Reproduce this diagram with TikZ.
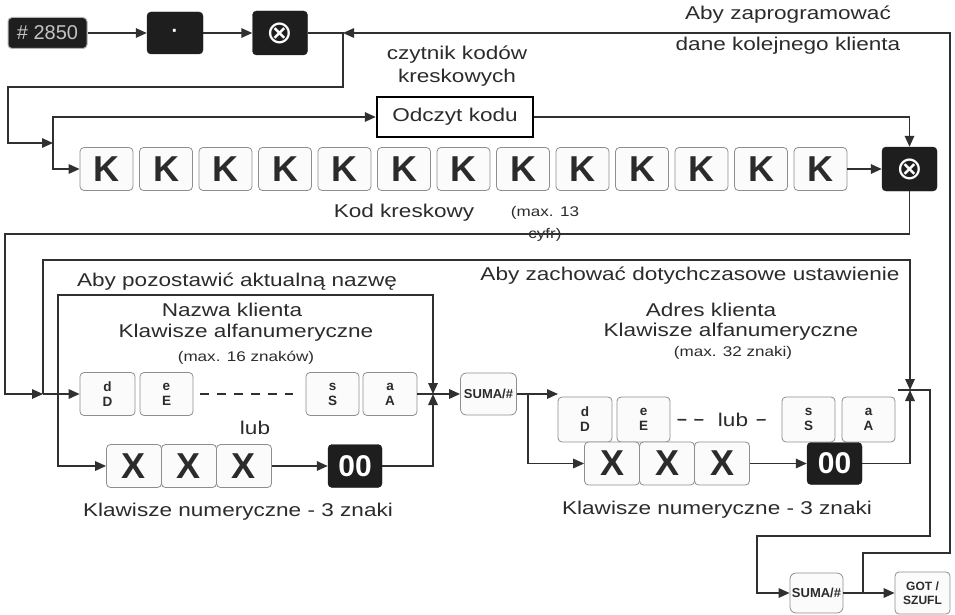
\documentclass[tikz,border=0pt]{standalone}
\usepackage{fontspec}
\setsansfont{Liberation Sans}[FakeStretch=1.22]
\newfontfamily\keyfont{Liberation Sans}
\newfontfamily\symfont{DejaVu Sans}
\usetikzlibrary{arrows.meta}

\definecolor{ink}{HTML}{2B2B2B}
\definecolor{wiregray}{HTML}{303030}
\definecolor{keyedge}{HTML}{8E8E8E}
\definecolor{keyface}{HTML}{FBFBFB}
\definecolor{keyblack}{HTML}{1E1E1E}
\definecolor{labelgray}{HTML}{C4C4C4}

\begin{document}
\begin{tikzpicture}[
  x=1pt,
  y=-1pt,
  font=\sffamily\fontsize{18.5}{22}\selectfont,
  text=ink,
  wire/.style={draw=wiregray,line width=1.6pt},
  arr/.style={wire,-{Triangle[length=11pt,width=9.5pt]}},
  keycap/.style={draw=keyedge,line width=.8pt,rounded corners=4pt,fill=keyface,inner sep=0pt},
  bigkey/.style={keycap,minimum width=55pt,minimum height=43pt,
    font=\keyfont\bfseries\fontsize{36}{36}\selectfont},
  letterkey/.style={keycap,minimum width=54pt,minimum height=43pt,align=center,
    font=\keyfont\bfseries\fontsize{13.5}{15}\selectfont},
  blackkey/.style={draw=keyblack,fill=keyblack,rounded corners=4pt,inner sep=0pt,text=white},
  xkey/.style={blackkey,minimum width=55pt,minimum height=44pt,
    font=\symfont\fontsize{32}{32}\selectfont},
  sumakey/.style={keycap,rounded corners=6pt,minimum width=56pt,minimum height=42pt,
    align=center,font=\keyfont\bfseries\fontsize{13}{14}\selectfont},
  smallnote/.style={font=\sffamily\fontsize{14}{22}\selectfont},
  dashline/.style={wire,dash pattern=on 9pt off 8pt}
]
\useasboundingbox (0,0) rectangle (955,615);

% pixel grid of the sheet, y runs downwards
\node[blackkey,draw=gray!60,line width=1pt,minimum width=79pt,minimum height=31pt,
  text=labelgray,font=\keyfont\fontsize{20}{20}\selectfont] (k2850) at (47.5,33) {\# 2850};
\node[blackkey,minimum width=56pt,minimum height=42pt,
  font=\keyfont\bfseries\fontsize{20}{20}\selectfont] (kdot) at (175,33) {\raisebox{-9pt}{·}};
\node[xkey] (kx1) at (280,33) {⊗};
\coordinate (jtop) at (343,33);
\coordinate (jk) at (53,143);

\node[align=center,font=\sffamily\fontsize{18.5}{23}\selectfont] (reader) at (457,66)
  {czytnik kodów\\kreskowych};
\node[draw=black,line width=2.4pt,fill=white,minimum width=156pt,minimum height=40pt,
  inner sep=0pt] (odczyt) at (455,117) {Odczyt kodu};

\node[bigkey,minimum width=53pt] (k1) at (106.5,169) {K};
\node[bigkey,minimum width=53pt] (k2) at (166,169) {K};
\node[bigkey,minimum width=53pt] (k3) at (225.5,169) {K};
\node[bigkey,minimum width=53pt] (k4) at (285,169) {K};
\node[bigkey,minimum width=53pt] (k5) at (344.5,169) {K};
\node[bigkey,minimum width=53pt] (k6) at (404,169) {K};
\node[bigkey,minimum width=53pt] (k7) at (463.5,169) {K};
\node[bigkey,minimum width=53pt] (k8) at (523,169) {K};
\node[bigkey,minimum width=53pt] (k9) at (582.5,169) {K};
\node[bigkey,minimum width=53pt] (k10) at (642,169) {K};
\node[bigkey,minimum width=53pt] (k11) at (701.5,169) {K};
\node[bigkey,minimum width=53pt] (k12) at (761,169) {K};
\node[bigkey,minimum width=53pt] (k13) at (820.5,169) {K};
\node[xkey] (kx2) at (909.5,169) {⊗};

\node (kodlabel) at (404,213) {Kod kreskowy};
\node[smallnote,align=center] (kodmax) at (545,224) {(max. 13\\cyfr)};

\node (topnote) at (788,30) [align=center,font=\sffamily\fontsize{18.5}{31}\selectfont]
  {Aby zaprogramować\\dane kolejnego klienta};

% name of the client
\coordinate (jname) at (43,394);
\coordinate (jb) at (58,394);
\node (keepname) at (237,282) {Aby pozostawić aktualną nazwę};
\node (namelabel) at (232,310) {Nazwa klienta};
\node (namekeys) at (246,333) {Klawisze alfanumeryczne};
\node[smallnote] (namemax) at (246,358) {(max. 16 znaków)};
\node[letterkey,minimum width=55pt] (ld) at (107.5,394) {d\\D};
\node[letterkey,minimum width=53pt] (le) at (166.5,394) {e\\E};
\node[letterkey,minimum width=53pt] (ls) at (332.5,394) {s\\S};
\node[letterkey] (la) at (390,394) {a\\A};
\node (lubl) at (255,428) {lub};
\node[bigkey] (lx1) at (134,466) {X};
\node[bigkey] (lx2) at (189,466) {X};
\node[bigkey] (lx3) at (244,466) {X};
\node[blackkey,minimum width=54pt,minimum height=43pt,
  font=\keyfont\bfseries\fontsize{30}{30}\selectfont] (l00) at (355,466) {00};
\node (lnum) at (238,512) {Klawisze numeryczne - 3 znaki};
\coordinate (jn) at (433,394);
\node[sumakey] (suma1) at (488.5,394) {SUMA/\#};

% address of the client
\coordinate (js) at (528,394);
\coordinate (rin) at (558,394);
\node (keepaddr) at (690,276) {Aby zachować dotychczasowe ustawienie};
\node (addrlabel) at (711,310) {Adres klienta};
\node (addrkeys) at (731,332) {Klawisze alfanumeryczne};
\node[smallnote] (addrmax) at (733,353) {(max. 32 znaki)};
\node[letterkey,minimum height=45pt] (rd) at (585,419.5) {d\\D};
\node[letterkey,minimum width=53pt,minimum height=45pt] (re) at (643.5,419.5) {e\\E};
\node (lubr) at (733,420) {lub};
\node[letterkey,minimum width=53pt,minimum height=45pt] (rs) at (808.5,419.5) {s\\S};
\node[letterkey,minimum width=53pt,minimum height=45pt] (ra) at (868.5,419.5) {a\\A};
\node[bigkey] (rx1) at (612,463.5) {X};
\node[bigkey] (rx2) at (667,463.5) {X};
\node[bigkey] (rx3) at (722,463.5) {X};
\node[blackkey,minimum width=55pt,minimum height=42pt,
  font=\keyfont\bfseries\fontsize{30}{30}\selectfont] (r00) at (834.5,463.5) {00};
\node (rnum) at (717,510) {Klawisze numeryczne - 3 znaki};
\coordinate (jr) at (910,390);
\coordinate (jrw) at (898,390);

\node[sumakey,minimum width=53pt,minimum height=40pt] (suma2) at (816.5,593) {SUMA/\#};
\node[sumakey,rounded corners=4pt,minimum width=55pt,minimum height=42pt,
  font=\keyfont\bfseries\fontsize{12}{14}\selectfont] (got) at (922.5,593) {GOT /\\SZUFL};
\coordinate (jg) at (863,593);

% connectors
\draw[arr] (k2850) -- (kdot);
\draw[arr] (kdot) -- (kx1);
\draw[arr] (kx1) -- (jtop) -- (343,87) -| (8,143) -- (jk);
\draw[arr] (jk) |- (odczyt);
\draw[arr] (jk) |- (k1);
\draw[arr] (odczyt) -| (kx2);
\draw[arr] (k13) -- (kx2);
\draw[arr] (kx2) |- (5,234) |- (jname);

\draw[arr] (jname) -- (ld);
\draw[arr] (jb) |- (433,295) -- (jn);
\draw[arr] (jb) |- (lx1);
\draw[dashline,shorten <=7pt,shorten >=13pt] (le) -- (ls);
\draw[arr] (la) -- (suma1);
\draw[arr] (lx3) -- (l00);
\draw[arr] (l00) -| (jn);

\draw[arr] (suma1) -- (rin);
\draw[arr] (js) |- (rx1);
\draw[dashline,shorten <=7pt,shorten >=4pt] (re) -- (lubr);
\draw[dashline,shorten <=5pt,shorten >=14pt] (lubr) -- (rs);
\draw[arr] (rx3) -- (r00);
\draw[arr] (r00) -| (jr);
\draw[arr] (jname) -- (43,260) -| (jr);
\draw[arr] (jrw) -- (930,390) |- (757,536) |- (suma2);
\draw[arr] (suma2) -- (got);
\draw[arr] (jg) |- (950,553) |- (jtop);
\end{tikzpicture}
\end{document}
